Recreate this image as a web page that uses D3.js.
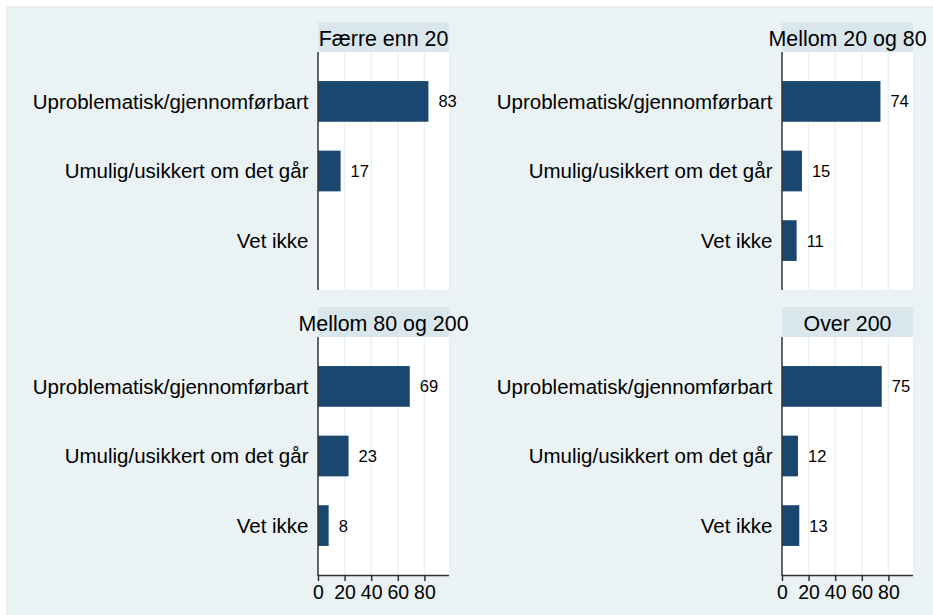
<!DOCTYPE html>
<html>
<head>
<meta charset="utf-8">
<script src="https://cdn.jsdelivr.net/npm/d3@7"></script>
<style>
  body { margin: 0; background: #ffffff; }
  text { font-family: "Liberation Sans", Arial, sans-serif; fill: #000; }
</style>
</head>
<body>
<div id="chart"></div>
<script>
// categories and values, one array per panel
var categories = ["Uproblematisk/gjennomførbart", "Umulig/usikkert om det går", "Vet ikke"];
var panelTitles = ["Færre enn 20", "Mellom 20 og 80", "Mellom 80 og 200", "Over 200"];
var faerreEnn20 = [83, 17, null];
var mellom20og80 = [74, 15, 11];
var mellom80og200 = [69, 23, 8];
var over200 = [75, 12, 13];
var xTicks = [0, 20, 40, 60, 80];

var panelValues = [faerreEnn20, mellom20og80, mellom80og200, over200];

var width = 933, height = 615;
var colX = [318, 782],		// left edge of each column's plot area
	rowY = [22, 307],		// top of each row's title strip
	plotW = 131,
	stripH = 30,
	plotH = 238;

var svg = d3.select("#chart")
	.append("svg")
	.attr("width", width)
	.attr("height", height);

// outer background
svg.append("rect")
	.attr("x", 6).attr("y", 6)
	.attr("width", width - 6).attr("height", height - 6)
	.attr("fill", "#eaf2f3");

var x = d3.scaleLinear().domain([0, 98.5]).range([0, plotW]);
var y = d3.scalePoint().domain(categories).range([0, plotH]).padding(0.71);
var barH = y.step() * 0.585;

panelTitles.forEach(function(title, i) {
	var col = i % 2, row = Math.floor(i / 2);
	var g = svg.append("g")
		.attr("transform", "translate(" + colX[col] + "," + rowY[row] + ")");

	// title strip
	g.append("rect")
		.attr("width", plotW).attr("height", stripH)
		.attr("fill", "#d9e6eb");
	g.append("text")
		.attr("x", plotW / 2).attr("y", 23.5)
		.attr("text-anchor", "middle")
		.style("font-size", "21.4px")
		.text(title);

	var p = g.append("g").attr("transform", "translate(0," + stripH + ")");

	p.append("rect")
		.attr("width", plotW).attr("height", plotH)
		.attr("fill", "#ffffff");

	// vertical grid
	p.selectAll(".grid")
		.data(xTicks.slice(1))
		.enter().append("line")
		.attr("x1", function(d) { return x(d); })
		.attr("x2", function(d) { return x(d); })
		.attr("y1", 0).attr("y2", plotH)
		.attr("stroke", "#eaf2f3")
		.attr("stroke-width", 1.5);

	var rows = categories.map(function(c, j) { return { cat: c, value: panelValues[i][j] }; });

	p.selectAll(".bar")
		.data(rows.filter(function(d) { return d.value != null; }))
		.enter().append("rect")
		.attr("x", 0)
		.attr("y", function(d) { return y(d.cat) - barH / 2; })
		.attr("width", function(d) { return x(d.value); })
		.attr("height", barH)
		.attr("fill", "#1a476f");

	p.selectAll(".val")
		.data(rows.filter(function(d) { return d.value != null; }))
		.enter().append("text")
		.attr("x", function(d) { return x(d.value) + 10; })
		.attr("y", function(d) { return y(d.cat); })
		.attr("dy", "0.36em")
		.style("font-size", "16.5px")
		.text(function(d) { return d.value; });

	// category labels
	p.selectAll(".cat")
		.data(categories)
		.enter().append("text")
		.attr("x", -9.5)
		.attr("y", function(d) { return y(d); })
		.attr("dy", "0.36em")
		.attr("text-anchor", "end")
		.style("font-size", "20.5px")
		.text(function(d) { return d; });

	// left axis line
	p.append("line")
		.attr("x1", 0).attr("x2", 0)
		.attr("y1", 0).attr("y2", plotH + (row == 1 ? 1 : 0))
		.attr("stroke", "#333")
		.attr("stroke-width", 1.5);

	// x axis only on bottom row
	if (row == 1) {
		var ax = p.append("g")
			.attr("transform", "translate(0," + plotH + ")")
			.call(d3.axisBottom(x).tickValues(xTicks).tickSize(6).tickPadding(4).tickSizeOuter(0));
		ax.select(".domain").attr("stroke", "#333").attr("stroke-width", 1.5)
			.attr("d", "M0,0.5H" + plotW);
		ax.selectAll(".tick line").attr("stroke", "#333").attr("stroke-width", 1.5);
		ax.selectAll(".tick text")
			.style("font-size", "19.5px")
			.style("font-family", "'Liberation Sans', Arial, sans-serif")
			.attr("fill", "#000");
	}
});
</script>
</body>
</html>
